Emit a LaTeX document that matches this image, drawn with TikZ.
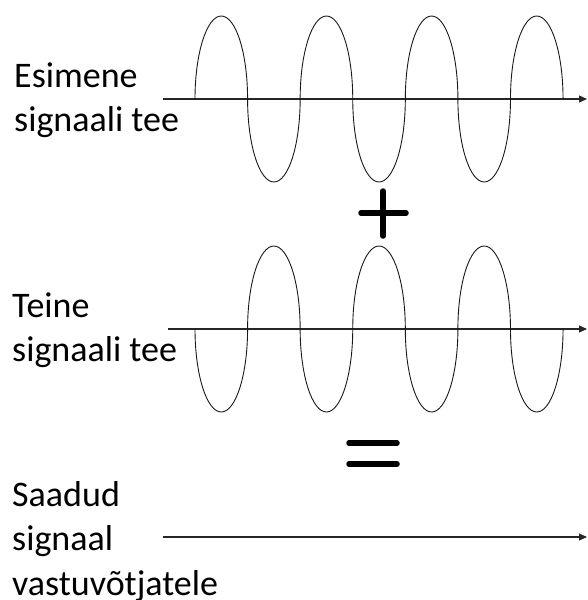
\documentclass[tikz,border=0pt]{standalone}
\usepackage{fontspec}
\setmainfont{Carlito}
\usepackage{tikz}
\usetikzlibrary{arrows.meta}
\tikzset{
  lbl/.style ={anchor=base west, inner sep=0pt, align=left, font=\fontsize{36}{44.5}\selectfont},
  axis/.style={-{Triangle[length=8pt,width=7pt]}, line width=1.1pt, black!85},
  wave/.style={line width=0.9pt, black!90, x radius=26.29pt, y radius=83pt},
  sgn/.style ={line width=5.5pt, line cap=round},
}

\begin{document}
\begin{tikzpicture}[x=1pt, y=-1pt]
  \useasboundingbox (0,0) rectangle (587,600);
  % first signal path
  \coordinate (s1) at (163,99);
  \coordinate (t1) at (587,99);
  \node[lbl] (first) at (14,131.5) {Esimene\\signaali tee};
  \draw[axis] (s1) -- (t1);
  \draw[wave] (195,99) arc[start angle=180, end angle=0] arc[start angle=180, end angle=360]
    arc[start angle=180, end angle=0] arc[start angle=180, end angle=360]
    arc[start angle=180, end angle=0] arc[start angle=180, end angle=360]
    arc[start angle=180, end angle=0];
  % plus
  \draw[sgn] (361,213) -- (406,213);
  \draw[sgn] (383,191) -- (383,236);
  % second signal path
  \coordinate (s2) at (168,329);
  \coordinate (t2) at (587,329);
  \node[lbl] (second) at (12,361.5) {Teine\\signaali tee};
  \draw[axis] (s2) -- (t2);
  \draw[wave] (195,329) arc[start angle=180, end angle=360] arc[start angle=180, end angle=0]
    arc[start angle=180, end angle=360] arc[start angle=180, end angle=0]
    arc[start angle=180, end angle=360] arc[start angle=180, end angle=0]
    arc[start angle=180, end angle=360];
  % equals
  \draw[sgn] (349,443) -- (397,443);
  \draw[sgn] (349,464) -- (397,464);
  % received signal
  \coordinate (s3) at (163,537);
  \coordinate (t3) at (587,537);
  \node[lbl] (sum) at (12,595) {Saadud\\signaal\\vastuvõtjatele};
  \draw[axis] (s3) -- (t3);
\end{tikzpicture}
\end{document}
